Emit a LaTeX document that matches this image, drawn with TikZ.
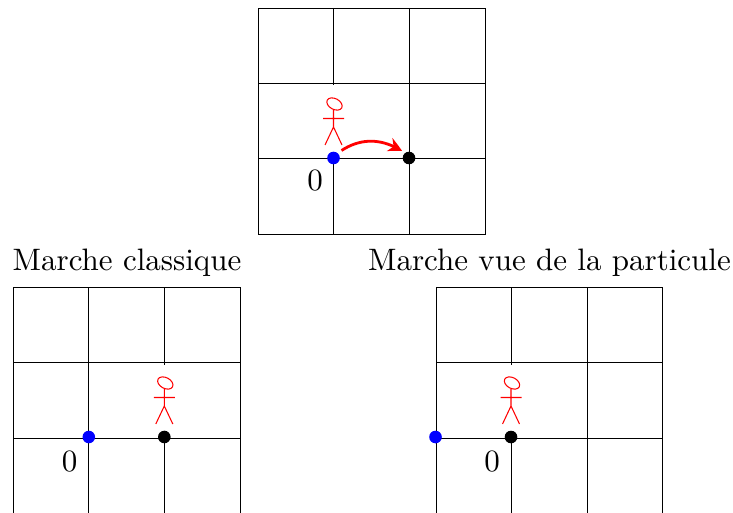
\documentclass[tikz,border=0pt]{standalone}
\usetikzlibrary{arrows.meta,bending}
\tikzset{
  x=1pt,y=-1pt,
  gridline/.style={draw=black,line width=0.9pt},
  mask/.style={fill=white,draw=none,inner sep=0pt,minimum width=42pt,minimum height=73pt,anchor=south},
  blue dot/.style={circle,fill=blue,draw=none,inner sep=0pt,minimum size=12.6pt},
  black dot/.style={circle,fill=black,draw=none,inner sep=0pt,minimum size=12.6pt},
  lbl/.style={inner sep=0pt,anchor=base},
  jump/.style={draw=red,line width=2.8pt,-{Stealth[length=14pt,width=14pt,inset=4.5pt,bend]}},
  walker/.pic={
    \draw[red,line width=1.05pt]
      (0,-48) -- (0,-30)
      (-10.5,-39.5) -- (10.5,-39.5)
      (-8.5,-13) -- (0,-31) -- (8.5,-13);
    \draw[red,line width=1.05pt,rotate around={-28:(1,-54)}] (1,-54) ellipse[x radius=8.2pt,y radius=5.4pt];
  }
}
\newcommand{\bigtext}[1]{\scalebox{3.1}{#1}}
\begin{document}
\begin{tikzpicture}
\useasboundingbox (0,0) rectangle (733,513);
\clip (0,0) rectangle (733,513);
% top grid
\draw[gridline] (258,8) rectangle (485,234.5);
\draw[gridline] (333.5,8) -- (333.5,234.5) (409,8) -- (409,234.5)
                (258,83.5) -- (485,83.5) (258,158.5) -- (485,158.5);
\node[mask] (m1) at (334,158.4) {};
\pic at (333.5,158) {walker};
\node[blue dot] (b1) at (333.5,158) {};
\node[black dot] (k1) at (409,158) {};
\draw[jump] ([shift={(8,-7.5)}]b1.center) to[out=33,in=148] ([shift={(-7,-7)}]k1.center);
\node[lbl] (z1) at (315,191) {\bigtext{0}};
% left grid
\draw[gridline] (13,513) -- (13,287.5) -- (240,287.5) -- (240,513);
\draw[gridline] (88.8,287.5) -- (88.8,513) (164.3,287.5) -- (164.3,513)
                (13,362.5) -- (240,362.5) (13,438) -- (240,438);
\node[mask] (m2) at (164.3,437.9) {};
\pic at (164.3,437) {walker};
\node[blue dot] (b2) at (88.8,437) {};
\node[black dot] (k2) at (164.3,437) {};
\node[lbl] (z2) at (69.5,471) {\bigtext{0}};
\node[lbl] (t2) at (127,270) {\bigtext{Marche classique}};
% right grid
\draw[gridline] (436,513) -- (436,287.5) -- (662,287.5) -- (662,513);
\draw[gridline] (511,287.5) -- (511,513) (587,287.5) -- (587,513)
                (436,362.5) -- (662,362.5) (436,438) -- (662,438);
\node[mask] (m3) at (511,437.9) {};
\pic at (511,437) {walker};
\node[blue dot] (b3) at (435.5,437) {};
\node[black dot] (k3) at (511,437) {};
\node[lbl] (z3) at (492,471) {\bigtext{0}};
\node[lbl] (t3) at (549.5,270) {\bigtext{Marche vue de la particule}};
\end{tikzpicture}
\end{document}
